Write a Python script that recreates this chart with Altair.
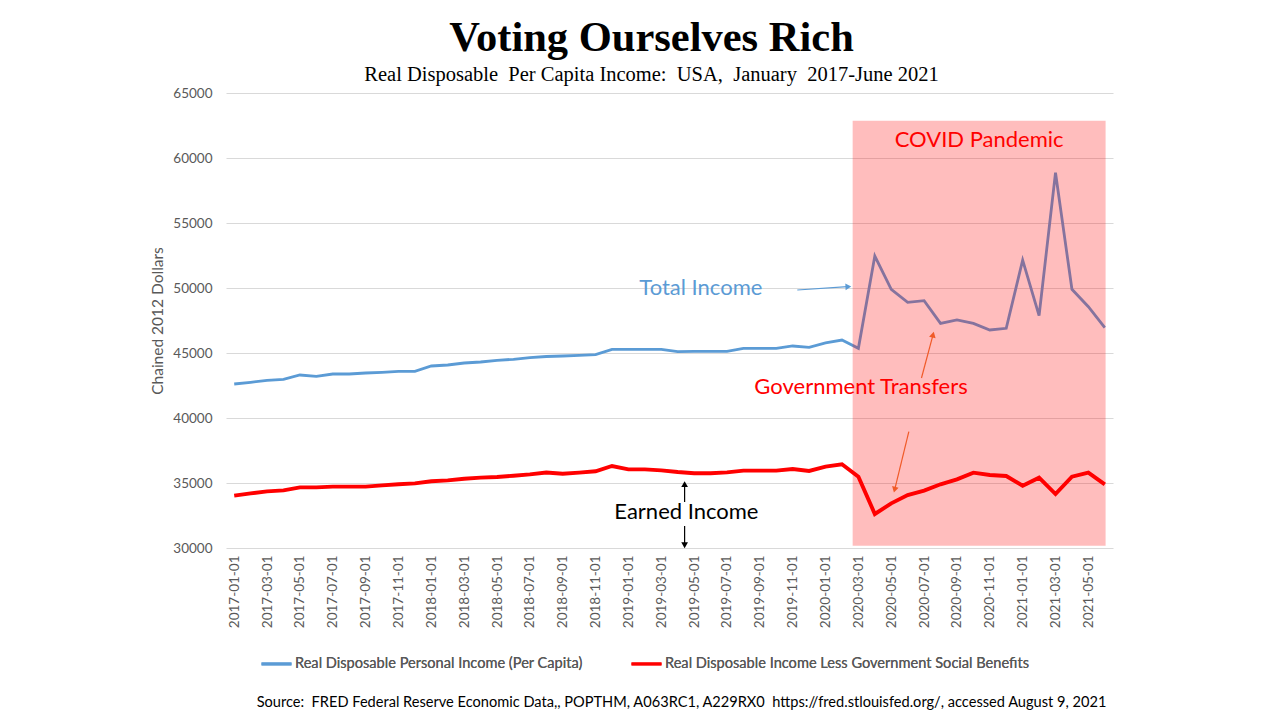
import altair as alt
import pandas as pd

# ---------------- data ----------------
months = [f"{y}-{m:02d}-01" for y in range(2017, 2022) for m in range(1, 13)][:54]

total_income = [
    42615, 42746, 42900, 42977, 43308, 43208, 43385, 43385, 43462, 43515, 43590, 43590,
    44000, 44077, 44230, 44308, 44440, 44515, 44640, 44730, 44770, 44820, 44870, 45285,
    45285, 45285, 45285, 45100, 45130, 45130, 45130, 45360, 45360, 45360, 45540, 45440,
    45770, 46000, 45360, 52460, 49900, 48900, 49025, 47280, 47540, 47280, 46770, 46900,
    52150, 47870, 58870, 49900, 48560, 46950,
]
earned_income = [
    34025, 34205, 34360, 34435, 34665, 34665, 34720, 34720, 34720, 34820, 34900, 34975,
    35130, 35205, 35330, 35410, 35460, 35560, 35665, 35810, 35715, 35795, 35900, 36310,
    36050, 36050, 35975, 35845, 35745, 35745, 35820, 35950, 35950, 35950, 36080, 35925,
    36260, 36440, 35485, 32615, 33435, 34075, 34410, 34900, 35280, 35795, 35615, 35540,
    34795, 35410, 34150, 35485, 35795, 34900,
]

series_names = [
    "Real Disposable Personal Income (Per Capita)",
    "Real Disposable Income Less Government Social Benefits",
]
series_colors = ["#5B9BD5", "#FF0000"]

# annotation texts (month index, value)
ann_text = ["COVID Pandemic", "Total Income", "Government Transfers", "Earned Income"]
ann_x = [45.35, 28.41, 38.16, 27.53]
ann_y = [60820, 49460, 41850, 32230]
ann_color = ["#FF0000", "#5B9BD5", "#FF0000", "#000000"]

# arrows (start -> head centre), month index / value, head angle
arr_x0 = [34.28, 41.84, 41.07, 27.42, 27.42]
arr_y0 = [49846, 43077, 38946, 33540, 31690]
arr_x1 = [37.33, 42.53, 40.22, 27.42, 27.42]
arr_y1 = [50100, 46340, 34554, 34846, 30285]
arr_angle = [87, 14, 194, 0, 180]
arr_color = ["#5B9BD5", "#F05A28", "#F05A28", "#000000", "#000000"]

# covid band (month index range, value range)
band_x = [37.65, 53.05]
band_y = [30180, 62870]

NB = "\u00a0"
title_text = "Voting Ourselves Rich"
subtitle_text = f"Real Disposable{NB} Per Capita Income:{NB} USA,{NB} January{NB} 2017-June 2021"
source_text = (f"Source:{NB} FRED Federal Reserve Economic Data,, POPTHM, A063RC1, A229RX0{NB} "
               "https://fred.stlouisfed.org/, accessed August 9, 2021")

# ---------------- tables ----------------
rows = []
for i, d in enumerate(months):
    rows.append({"idx": i, "date": d, "series": series_names[0], "value": total_income[i]})
    rows.append({"idx": i, "date": d, "series": series_names[1], "value": earned_income[i]})
df = pd.DataFrame(rows)

ann_df = pd.DataFrame({"text": ann_text, "x": ann_x, "y": ann_y, "c": ann_color})
arr_df = pd.DataFrame({"x0": arr_x0, "y0": arr_y0, "x1": arr_x1, "y1": arr_y1,
                       "angle": arr_angle, "c": arr_color})
band_df = pd.DataFrame({"x0": [band_x[0]], "x1": [band_x[1]], "y0": [band_y[0]], "y1": [band_y[1]]})

label_expr = "[" + ",".join(f"'{d}'" for d in months) + "][datum.value]"

FONT = "Lato"
GREY = "#595959"

x_scale = alt.Scale(domain=[-0.5, 53.5], nice=False, zero=False)
y_scale = alt.Scale(domain=[30000, 65000], nice=False, zero=False)

x_axis = alt.Axis(
    values=list(range(0, 54, 2)), labelExpr=label_expr, labelAngle=270,
    labelFont=FONT, labelFontSize=13.5, labelColor=GREY, labelPadding=7,
    labelOverlap=False, labelSeparation=0, labelFlush=False,
    domain=False, ticks=False, grid=False,
    title=source_text, titleFont=FONT, titleFontSize=14.6, titleFontWeight="normal",
    titleColor="black", titleX=455, titleY=158, titleBaseline="alphabetic",
    titleAlign="center",
)
y_axis = alt.Axis(
    values=list(range(30000, 65001, 5000)), format="d",
    labelFont=FONT, labelFontSize=13.5, labelColor=GREY, labelPadding=14,
    domain=False, ticks=False, gridColor="#D9D9D9", gridWidth=1,
    title="Chained 2012 Dollars", titleFont=FONT, titleFontSize=15.5,
    titleFontWeight="normal", titleColor=GREY, titlePadding=7,
)

x_enc = alt.X("idx:Q", scale=x_scale, axis=x_axis)
y_enc = alt.Y("value:Q", scale=y_scale, axis=y_axis)

color_enc = alt.Color(
    "series:N",
    scale=alt.Scale(domain=series_names, range=series_colors),
    legend=alt.Legend(
        orient="none", legendX=34, legendY=554, direction="horizontal", title=None,
        symbolType="stroke", symbolSize=900, symbolStrokeWidth=3,
        labelFont=FONT, labelFontSize=14.6, labelColor=GREY, labelLimit=500,
        labelOffset=2, columnPadding=42,
    ),
)

blue_line = alt.Chart(df).transform_filter(
    alt.datum.series == series_names[0]
).mark_line(strokeWidth=2.8).encode(x=x_enc, y=y_enc, color=color_enc)

red_line = alt.Chart(df).transform_filter(
    alt.datum.series == series_names[1]
).mark_line(strokeWidth=3.9).encode(x=x_enc, y=y_enc, color=color_enc)

band = alt.Chart(band_df).mark_rect(color="#FF0000", opacity=0.26).encode(
    x=alt.X("x0:Q", scale=x_scale, axis=x_axis), x2="x1:Q",
    y=alt.Y("y0:Q", scale=y_scale, axis=y_axis), y2="y1:Q",
)

arrows = alt.Chart(arr_df).mark_rule(strokeWidth=1.2).encode(
    x=alt.X("x0:Q", scale=x_scale, axis=x_axis), x2="x1:Q",
    y=alt.Y("y0:Q", scale=y_scale, axis=y_axis), y2="y1:Q",
    color=alt.Color("c:N", scale=None),
)
heads = alt.Chart(arr_df).mark_point(shape="triangle", filled=True, size=45, opacity=1).encode(
    x=alt.X("x1:Q", scale=x_scale, axis=x_axis), y=alt.Y("y1:Q", scale=y_scale, axis=y_axis),
    angle=alt.Angle("angle:Q", scale=None),
    color=alt.Color("c:N", scale=None),
)

texts = alt.Chart(ann_df).mark_text(font=FONT, fontSize=22, align="center", baseline="alphabetic").encode(
    x=alt.X("x:Q", scale=x_scale, axis=x_axis), y=alt.Y("y:Q", scale=y_scale, axis=y_axis),
    text="text:N", color=alt.Color("c:N", scale=None),
)

chart = alt.layer(blue_line, red_line, band, arrows, heads, texts).properties(
    width=887, height=455,
    autosize=alt.AutoSizeParams(type="none"),
    padding={"left": 226, "top": 93, "right": 167, "bottom": 172},
    title=alt.Title(
        text=title_text,
        subtitle=subtitle_text,
        font="Liberation Serif", fontSize=42.5, fontWeight="bold", color="black",
        subtitleFont="Liberation Serif", subtitleFontSize=20.5, subtitleColor="black",
        anchor="middle", dx=-18, offset=1, subtitlePadding=5,
    ),
    background="white",
).configure_view(stroke=None).resolve_scale(color="independent")

chart.save("out.html", embed_options={"renderer": "svg", "actions": False})
